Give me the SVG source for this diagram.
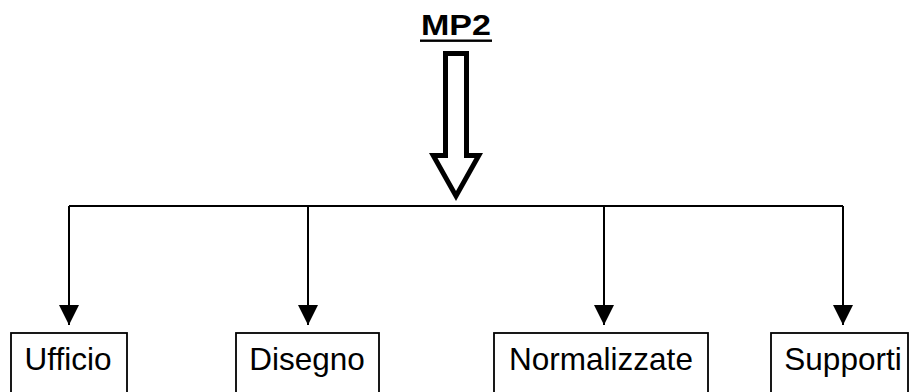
<svg xmlns="http://www.w3.org/2000/svg" width="912" height="392" viewBox="0 0 912 392">
<style>
.lbl{font-family:"Liberation Sans",Arial,sans-serif;font-size:31.5px;fill:#000;text-anchor:middle}
.box{fill:#fff;stroke:#000;stroke-width:1.8}
.ln{stroke:#000;stroke-width:2;fill:none}
</style>
<defs>
<marker id="ah" markerWidth="20" markerHeight="20" refX="20" refY="10" orient="auto" markerUnits="userSpaceOnUse">
<path d="M0,0 L20,10 L0,20 Z" fill="#000"/>
</marker>
</defs>
<rect width="912" height="392" fill="#fff"/>
<g id="title">
<text x="456" y="35" font-family="Liberation Sans,Arial,sans-serif" font-weight="bold" font-size="29" text-anchor="middle" textLength="70" lengthAdjust="spacingAndGlyphs">MP2</text>
<rect x="420" y="39.5" width="72" height="2.4" fill="#000"/>
<polygon points="443,51 469,51 469,153 483,153 456,201 429,153 443,153" fill="#000"/>
<polygon points="448,56 464,56 464,158 474.5,158 456,191 437.5,158 448,158" fill="#fff"/>
</g>
<g id="connectors">
<path class="ln" d="M69,206 H843"/>
<path class="ln" d="M69,206 V325" marker-end="url(#ah)"/>
<path class="ln" d="M308,206 V325" marker-end="url(#ah)"/>
<path class="ln" d="M604,206 V325" marker-end="url(#ah)"/>
<path class="ln" d="M843,206 V325" marker-end="url(#ah)"/>
</g>
<g id="ufficio">
<rect class="box" x="11" y="333" width="116" height="70"/>
<text class="lbl" x="68" y="370">Ufficio</text>
</g>
<g id="disegno">
<rect class="box" x="236" y="333" width="143" height="70"/>
<text class="lbl" x="307" y="370">Disegno</text>
</g>
<g id="normalizzate">
<rect class="box" x="494" y="333" width="214" height="70"/>
<text class="lbl" x="601" y="370">Normalizzate</text>
</g>
<g id="supporti">
<rect class="box" x="771" y="333" width="137" height="70"/>
<text class="lbl" x="843" y="370">Supporti</text>
</g>
</svg>
